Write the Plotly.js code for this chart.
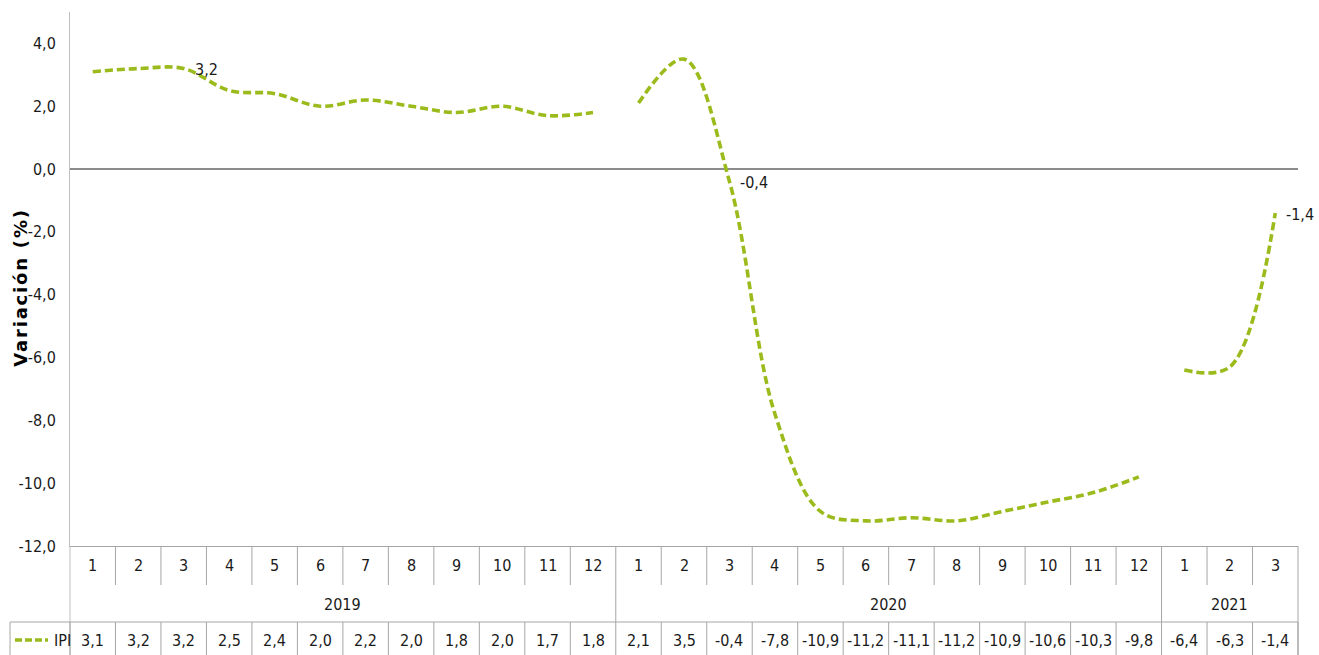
<!DOCTYPE html>
<html>
<head>
<meta charset="utf-8">
<script src="https://cdn.plot.ly/plotly-3.0.1.min.js"></script>
<style>
  html, body { margin: 0; padding: 0; background: #ffffff; }
  #chart { width: 1319px; height: 655px; }
  #chart svg text { font-stretch: condensed; }
  #chart g.annotation[data-index="0"] text { font-stretch: normal; letter-spacing: 1.8px; }
</style>
</head>
<body>
<div id="chart"></div>
<script>
// ---- Data ----
const seriesName = 'IPI';
const yTitle = 'Variación (%)';
const yearLabels = ['2019', '2020', '2021'];
const months2019 = ['1','2','3','4','5','6','7','8','9','10','11','12'];
const months2020 = ['1','2','3','4','5','6','7','8','9','10','11','12'];
const months2021 = ['1','2','3'];
const ipi2019 = [3.1, 3.2, 3.2, 2.5, 2.4, 2.0, 2.2, 2.0, 1.8, 2.0, 1.7, 1.8];
const ipi2020 = [2.1, 3.5, -0.4, -7.8, -10.9, -11.2, -11.1, -11.2, -10.9, -10.6, -10.3, -9.8];
const ipi2021 = [-6.4, -6.3, -1.4];
const labeledMonth = 3; // the chart labels month 3 of each year
const yTicks = [-12, -10, -8, -6, -4, -2, 0, 2, 4];

// ---- Build ----
const monthsByYear = [months2019, months2020, months2021];
const valuesByYear = [ipi2019, ipi2020, ipi2021];
const fmt = v => v.toFixed(1).replace('.', ',');

const green = '#9bbb1c';
const gridCol = '#a6a6a6';
const txtFont = { family: 'DejaVu Sans Condensed, DejaVu Sans, sans-serif', size: 16, color: '#1a1a1a' };

// layout geometry (pixels)
const W = 1319, H = 655;
const mL = 70, mR = 21, mT = 12, mB = 109;
const plotH = H - mT - mB;
const py = px => (H - mB - px) / plotH; // pixel row -> paper y

const allMonths = [].concat(...monthsByYear);
const N = allMonths.length;
const px2paperX = px => (px - mL) / (W - mL - mR);

const traces = [];
const annotations = [];
const shapes = [];

// y-axis title (first annotation)
annotations.push({
  x: px2paperX(21), y: py(288), xref: 'paper', yref: 'paper',
  text: yTitle, textangle: -90, showarrow: false,
  xanchor: 'center', yanchor: 'middle',
  font: { family: 'DejaVu Sans, Verdana, sans-serif', size: 18, color: '#000000', weight: 'bold' }
});

let offset = 0;
monthsByYear.forEach((months, k) => {
  const xs = months.map((m, i) => offset + i);
  traces.push({
    x: xs,
    y: valuesByYear[k],
    type: 'scatter',
    mode: 'lines',
    name: seriesName,
    showlegend: false,
    line: { color: green, width: 3.6, dash: '8px,4px', shape: 'spline', smoothing: 1 },
    hoverinfo: 'x+y'
  });
  const li = months.indexOf(String(labeledMonth));
  if (li >= 0) {
    annotations.push({
      x: offset + li, y: valuesByYear[k][li], xref: 'x', yref: 'y',
      text: fmt(valuesByYear[k][li]), showarrow: false,
      xanchor: 'left', yanchor: 'middle', xshift: 9, yshift: -1,
      font: txtFont
    });
  }
  annotations.push({
    x: offset + (months.length - 1) / 2, y: py(604), xref: 'x', yref: 'paper',
    text: yearLabels[k], showarrow: false, xanchor: 'center', yanchor: 'middle',
    font: txtFont
  });
  months.forEach((m, i) => {
    annotations.push({
      x: offset + i, y: py(565), xref: 'x', yref: 'paper',
      text: m, showarrow: false, xanchor: 'center', yanchor: 'middle', font: txtFont
    });
    annotations.push({
      x: offset + i, y: py(640), xref: 'x', yref: 'paper',
      text: fmt(valuesByYear[k][i]), showarrow: false, xanchor: 'center', yanchor: 'middle', font: txtFont
    });
  });
  offset += months.length;
});

// legend key in data table
annotations.push({
  x: px2paperX(52), y: py(640), xref: 'paper', yref: 'paper',
  text: seriesName, showarrow: false, xanchor: 'left', yanchor: 'middle', font: txtFont
});
shapes.push({
  type: 'line', xref: 'paper', yref: 'paper',
  x0: px2paperX(15), x1: px2paperX(48), y0: py(640), y1: py(640),
  line: { color: green, width: 3.6, dash: '7px,3px' }
});

// table grid lines
const yearStarts = [];
{ let o = 0; monthsByYear.forEach(m => { yearStarts.push(o); o += m.length; }); yearStarts.push(o); }
for (let b = 0; b <= N; b++) {
  const xp = b / N;
  const isYearEdge = yearStarts.indexOf(b) >= 0;
  const isOuter = (b === 0 || b === N);
  shapes.push({
    type: 'line', xref: 'paper', yref: 'paper',
    x0: xp, x1: xp, y0: 0, y1: isOuter ? py(660) : (isYearEdge ? py(622) : py(585)),
    line: { color: b === 0 ? '#bfbfbf' : gridCol, width: 1 }
  });
  shapes.push({
    type: 'line', xref: 'paper', yref: 'paper',
    x0: xp, x1: xp, y0: py(622), y1: py(660),
    line: { color: gridCol, width: 1 }
  });
}
shapes.push({
  type: 'line', xref: 'paper', yref: 'paper',
  x0: px2paperX(10), x1: 1, y0: py(622), y1: py(622),
  line: { color: gridCol, width: 1 }
});
shapes.push({
  type: 'line', xref: 'paper', yref: 'paper',
  x0: px2paperX(10), x1: px2paperX(10), y0: py(622), y1: py(660),
  line: { color: gridCol, width: 1 }
});

const layout = {
  width: W, height: H,
  margin: { l: mL, r: mR, t: mT, b: mB, pad: 0 },
  paper_bgcolor: '#ffffff', plot_bgcolor: '#ffffff',
  separators: ', ',
  showlegend: false,
  xaxis: {
    range: [-0.5, N - 0.5],
    showticklabels: false, ticks: '',
    showgrid: false, zeroline: false,
    showline: true, linecolor: gridCol, linewidth: 1,
    fixedrange: true
  },
  yaxis: {
    range: [-12, 5],
    tickvals: yTicks, ticktext: yTicks.map(fmt),
    ticks: '', ticklabelstandoff: 10,
    tickfont: txtFont,
    showgrid: false,
    zeroline: true, zerolinecolor: '#8c8c8c', zerolinewidth: 1.5,
    showline: true, linecolor: '#bfbfbf', linewidth: 1,
    fixedrange: true
  },
  annotations: annotations,
  shapes: shapes
};

Plotly.newPlot('chart', traces, layout, { displayModeBar: false, staticPlot: true });
</script>
</body>
</html>
